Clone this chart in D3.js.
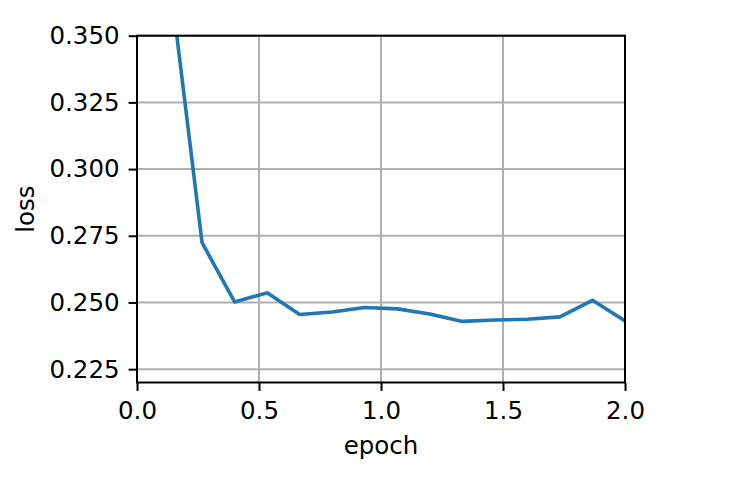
<!DOCTYPE html>
<html>
<head>
<meta charset="utf-8">
<script src="https://cdn.jsdelivr.net/npm/d3@7"></script>
<style>
  body { margin: 0; background: #fff; }
  text { font-family: "DejaVu Sans", sans-serif; fill: #000; }
</style>
</head>
<body>
<div id="chart"></div>
<script>
// training loss per epoch fraction
const epochs = [0.1333, 0.2667, 0.4, 0.5333, 0.6667, 0.8, 0.9333, 1.0667,
                1.2, 1.3333, 1.4667, 1.6, 1.7333, 1.8667, 2.0];
const loss = [0.3724, 0.2724, 0.2502, 0.2536, 0.2455, 0.2464, 0.2481, 0.2476,
              0.2457, 0.2429, 0.2434, 0.2437, 0.2446, 0.2508, 0.2431];
const xTicks = [0, 0.5, 1.0, 1.5, 2.0];
const yTicks = [0.225, 0.25, 0.275, 0.3, 0.325, 0.35];

const width = 747, height = 485;
const margin = { left: 137, right: 122, top: 35.7, bottom: 102.5 };
const iw = width - margin.left - margin.right;
const ih = height - margin.top - margin.bottom;
const fs = "24.5px";

const svg = d3.select("#chart").append("svg")
    .attr("width", width)
    .attr("height", height);

const g = svg.append("g")
    .attr("transform", `translate(${margin.left},${margin.top})`);

const x = d3.scaleLinear().domain([0, 2]).range([0, iw]);
const y = d3.scaleLinear().domain([0.22, 0.35]).range([ih, 0]);

svg.append("defs").append("clipPath").attr("id", "clip")
  .append("rect").attr("width", iw).attr("height", ih);

// grid
g.append("g").selectAll("line").data(xTicks).enter().append("line")
    .attr("x1", d => x(d)).attr("x2", d => x(d))
    .attr("y1", 0).attr("y2", ih)
    .style("stroke", "#b0b0b0").style("stroke-width", 2);
g.append("g").selectAll("line").data(yTicks).enter().append("line")
    .attr("x1", 0).attr("x2", iw)
    .attr("y1", d => y(d)).attr("y2", d => y(d))
    .style("stroke", "#b0b0b0").style("stroke-width", 2);

// line
const line = d3.line().x((d, i) => x(epochs[i])).y(d => y(d));
g.append("path")
    .datum(loss)
    .attr("clip-path", "url(#clip)")
    .attr("d", line)
    .style("fill", "none")
    .style("stroke", "#1f77b4")
    .style("stroke-width", 3.6)
    .style("stroke-linejoin", "round")
    .style("stroke-linecap", "square");

// axes
const xAxis = g.append("g")
    .attr("transform", `translate(0,${ih})`)
    .call(d3.axisBottom(x).tickValues(xTicks).tickFormat(d3.format(".1f"))
        .tickSize(8.4).tickPadding(10.5));
const yAxis = g.append("g")
    .call(d3.axisLeft(y).tickValues(yTicks).tickFormat(d3.format(".3f"))
        .tickSize(8.4).tickPadding(9));

[xAxis, yAxis].forEach(a => {
    a.select(".domain").remove();
    a.selectAll(".tick line").style("stroke", "#000").style("stroke-width", 2);
    a.selectAll(".tick text").style("font-size", fs)
        .style("font-family", "'DejaVu Sans', sans-serif");
});

// spines
g.append("rect")
    .attr("width", iw).attr("height", ih)
    .style("fill", "none").style("stroke", "#000").style("stroke-width", 2)
    .style("stroke-linecap", "square");

// labels
svg.append("text")
    .attr("x", margin.left + iw / 2)
    .attr("y", 453.5)
    .attr("text-anchor", "middle")
    .style("font-size", fs)
    .text("epoch");
svg.append("text")
    .attr("transform", `translate(33.5,${margin.top + ih / 2}) rotate(-90)`)
    .attr("text-anchor", "middle")
    .style("font-size", fs)
    .text("loss");
</script>
</body>
</html>
